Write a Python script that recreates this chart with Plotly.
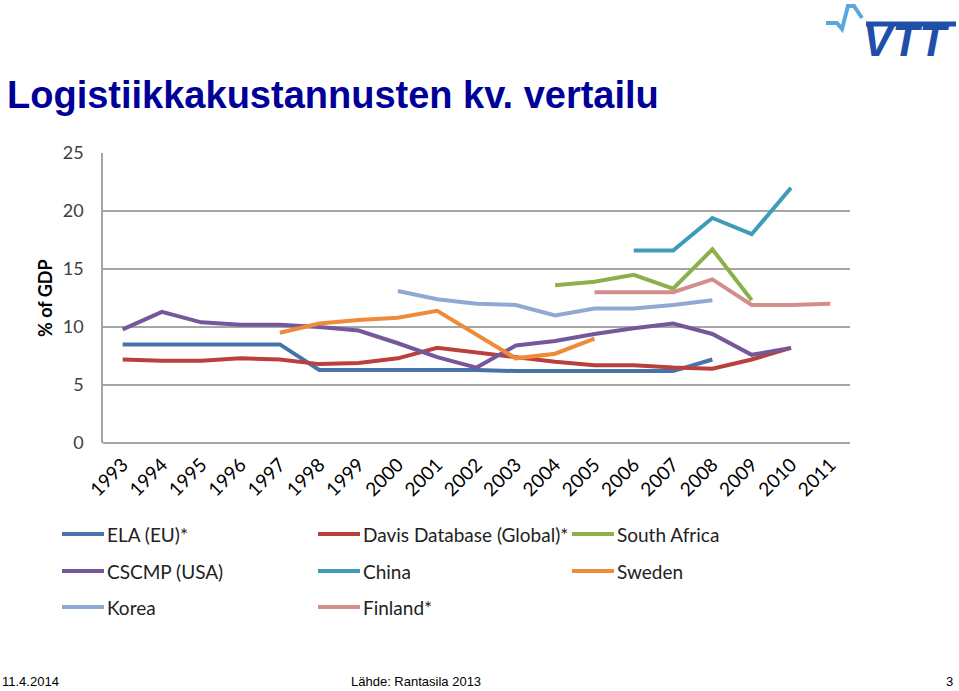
import plotly.graph_objects as go

years = [str(y) for y in range(1993, 2012)]

ela = [8.5, 8.5, 8.5, 8.5, 8.5, 6.3, 6.3, 6.3, 6.3, 6.3, 6.2, 6.2, 6.2, 6.2, 6.2, 7.2, None, None, None]
davis = [7.2, 7.1, 7.1, 7.3, 7.2, 6.8, 6.9, 7.3, 8.2, 7.8, 7.4, 7.0, 6.7, 6.7, 6.5, 6.4, 7.2, 8.2, None]
south_africa = [None]*11 + [13.6, 13.9, 14.5, 13.3, 16.7, 12.3, None, None]
cscmp = [9.8, 11.3, 10.4, 10.2, 10.2, 10.0, 9.7, 8.6, 7.4, 6.5, 8.4, 8.8, 9.4, 9.9, 10.3, 9.4, 7.6, 8.2, None]
china = [None]*13 + [16.6, 16.6, 19.4, 18.0, 22.0, None]
sweden = [None]*4 + [9.5, 10.3, 10.6, 10.8, 11.4, 9.4, 7.3, 7.7, 9.0, None, None, None, None, None, None]
korea = [None]*7 + [13.1, 12.4, 12.0, 11.9, 11.0, 11.6, 11.6, 11.9, 12.3, None, None, None]
finland = [None]*12 + [13.0, 13.0, 13.0, 14.1, 11.9, 11.9, 12.0]

names = ["ELA (EU)*", "Davis Database (Global)*", "South Africa",
         "CSCMP (USA)", "China", "Sweden", "Korea", "Finland*"]
series = [ela, davis, south_africa, cscmp, china, sweden, korea, finland]
colors = ["#4674AA", "#B9403D", "#8CB04C", "#76589A", "#3E9CB8", "#EE8A38", "#90A9D4", "#D38E8C"]

L, R, T, B = 103, 850, 153, 443
W, H = 959, 691

def px(x):
    return (x - L) / (R - L)

def py(y):
    return (B - y) / (B - T)

fig = go.Figure()
for n, s, c in zip(names, series, colors):
    fig.add_trace(go.Scatter(x=years, y=s, name=n, mode="lines",
                             line=dict(color=c, width=4), connectgaps=False,
                             showlegend=False))

# Manual legend (3 columns)
col_x = [62, 318, 572]
row_y = [534, 571, 607]
shapes = []
annotations = []
for i, (n, c) in enumerate(zip(names, colors)):
    cx = col_x[i % 3]
    ry = row_y[i // 3]
    shapes.append(dict(type="line", xref="paper", yref="paper",
                       x0=px(cx), x1=px(cx + 42), y0=py(ry), y1=py(ry),
                       line=dict(color=c, width=4)))
    annotations.append(dict(text=n, xref="paper", yref="paper",
                            x=px(cx + 43), y=py(ry), xanchor="left", yanchor="middle",
                            showarrow=False, font=dict(family="Lato", size=19, color="#222222")))

# Title
annotations.append(dict(text="<b>Logistiikkakustannusten kv. vertailu</b>", xref="paper", yref="paper",
                        x=px(5), y=py(95), xanchor="left", yanchor="middle", showarrow=False,
                        font=dict(family="Liberation Sans", size=38, color="#000099")))
# Y axis title
annotations.append(dict(text="<b>% of GDP</b>", xref="paper", yref="paper",
                        x=px(45), y=py(298), xanchor="center", yanchor="middle", textangle=-90,
                        showarrow=False, font=dict(family="Lato", size=18, color="#000000")))
# Footer
foot_font = dict(family="Liberation Sans Narrow, Liberation Sans", size=13, color="#000000")
annotations.append(dict(text="11.4.2014", xref="paper", yref="paper", x=px(0), y=py(681),
                        xanchor="left", yanchor="middle", showarrow=False, font=foot_font))
annotations.append(dict(text="Lähde: Rantasila 2013", xref="paper", yref="paper", x=px(416), y=py(681),
                        xanchor="center", yanchor="middle", showarrow=False, font=foot_font))
annotations.append(dict(text="3", xref="paper", yref="paper", x=px(955), y=py(681),
                        xanchor="right", yanchor="middle", showarrow=False, font=foot_font))
# Logo
pulse = [(826, 23), (837, 23), (842, 29), (848, 6), (854, 6), (862, 18)]
path = "M " + " L ".join(f"{px(x)},{py(y)}" for x, y in pulse)
shapes.append(dict(type="path", xref="paper", yref="paper", path=path,
                   line=dict(color="#5AA7E0", width=4)))
shapes.append(dict(type="line", xref="paper", yref="paper", x0=px(866), x1=px(956), y0=py(24), y1=py(24),
                   line=dict(color="#1F4FA8", width=5)))
annotations.append(dict(text="<b><i>VTT</i></b>", xref="paper", yref="paper", x=px(906), y=py(40),
                        xanchor="center", yanchor="middle", showarrow=False,
                        font=dict(family="Liberation Sans", size=44, color="#1F4FA8")))

fig.update_layout(
    width=W, height=H,
    margin=dict(l=L, r=W - R, t=T, b=H - B),
    paper_bgcolor="white", plot_bgcolor="white",
    shapes=shapes, annotations=annotations,
    xaxis=dict(type="category", range=[-0.5, 18.5], showgrid=False, showline=False,
               ticks="", tickangle=-45, ticklabelstandoff=6,
               tickfont=dict(family="Lato", size=19, color="#000000")),
    yaxis=dict(range=[0, 25], dtick=5, showgrid=True, gridcolor="#A6A6A6", gridwidth=1.5,
               showline=True, linecolor="#A6A6A6", linewidth=1.5, zeroline=True,
               zerolinecolor="#A6A6A6", zerolinewidth=1.5, ticks="", ticklen=0,
               ticklabelstandoff=14,
               tickfont=dict(family="Lato", size=18, color="#404040")),
    showlegend=False,
)

fig.write_html("out.html", config={"displayModeBar": False},
               post_script="document.body.style.margin='0';document.body.style.overflow='hidden';")
